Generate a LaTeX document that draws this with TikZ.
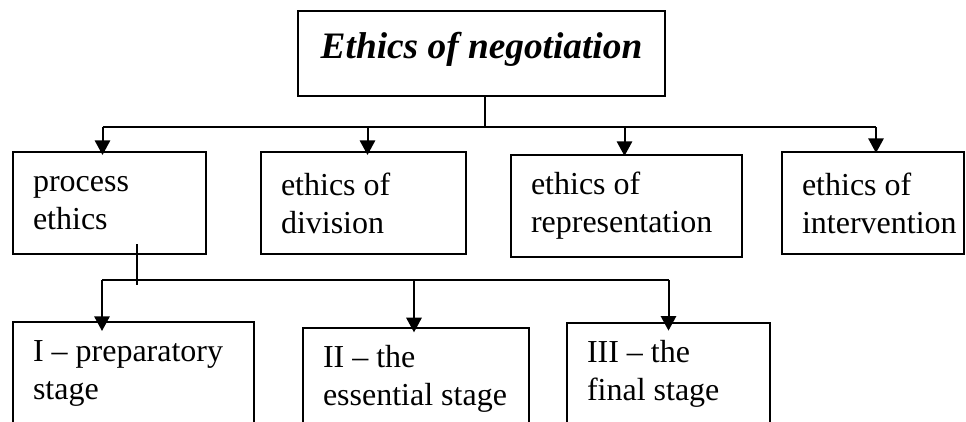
\documentclass[tikz,border=0pt]{standalone}
\usepackage{fontspec}
\setmainfont{Liberation Serif}
\usepackage{tikz}
\usetikzlibrary{positioning,calc,arrows.meta}
\hyphenpenalty=10000

\begin{document}
\begin{tikzpicture}[x=0.75pt,y=-0.75pt,
  box/.style={draw, line width=1.5pt, anchor=north west, minimum height=76.5pt,
    inner xsep=15pt, inner ysep=0pt, align=flush left, font=\fontsize{24}{28.5}\selectfont},
  ln/.style={line width=1.5pt},
  arr/.style={line width=1.5pt, -{Triangle[length=11pt,width=11.5pt]}}]
\useasboundingbox (0,0) rectangle (966,421);
\clip (0,0) rectangle (966,421);
\node[draw, line width=1.5pt, anchor=north west, minimum width=275.25pt, inner sep=0pt,
  text height=35.25pt, text depth=28.5pt,
  font=\fontsize{28}{34}\selectfont\bfseries\itshape] (title) at (297,10) {Ethics of negotiation};
% kinds of ethics
\node[box, minimum width=144.75pt, text width=114.75pt] (proc) at (12,151) {process\\ ethics};
\node[box, minimum width=153.75pt, text width=123.75pt] (div) at (260,151) {ethics of\\ division};
\node[box, minimum width=173.25pt, text width=143.25pt] (repr) at (510,154) {ethics of\\ representation};
\node[box, minimum width=136.5pt, text width=106.5pt] (interv) at (781,151) {ethics of\\ \mbox{intervention}};
% stages
\node[box, minimum width=180.75pt, text width=150.75pt] (prep) at (12,321) {\mbox{I – preparatory}\\ stage};
\node[box, minimum width=169.5pt, text width=139.5pt] (ess) at (302,327) {II – the\\ \mbox{essential stage}};
\node[box, minimum width=152.25pt, text width=122.25pt] (fin) at (566,322) {III – the\\ final stage};
% first level
\coordinate (top) at ($(title.south)+(3,30)$);
\draw[ln] ($(title.south)+(3,0)$) -- (top);
\foreach \n/\dx/\ext in {proc/-7/3pt, div/4/3pt, repr/-2/1.5pt, interv/3/1.5pt} {
  \coordinate (\n-in) at ($(\n.north)+(\dx,0)$);
  \draw[arr, shorten >=-\ext] (top -| \n-in) -- (\n-in);
}
\draw[ln] (top -| proc-in) -- (top -| interv-in);
% second level
\coordinate (ps) at ($(proc.south west)+(125,-11)$);
\coordinate (split) at ($(ps)+(0,36)$);
\draw[ln] (ps) -- ++(0,41);
\foreach \n/\dx/\ext in {prep/-31.5/7.5pt, ess/-2/4pt, fin/0/6.5pt} {
  \coordinate (\n-in) at ($(\n.north)+(\dx,0)$);
  \draw[arr, shorten >=-\ext] (split -| \n-in) -- (\n-in);
}
\draw[ln] (split -| prep-in) -- (split -| fin-in);
\end{tikzpicture}
\end{document}
